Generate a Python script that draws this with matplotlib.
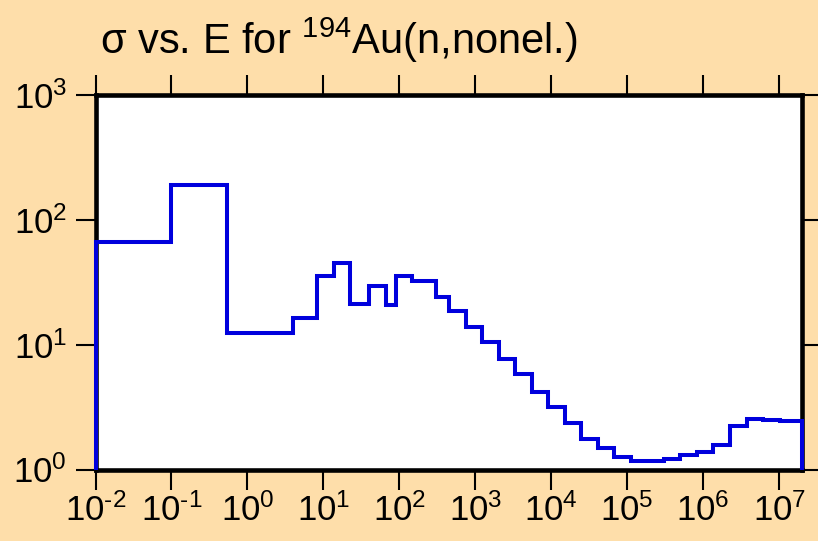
import matplotlib
matplotlib.use("Agg")
import matplotlib.pyplot as plt

plt.rcParams["font.family"] = ["Liberation Sans", "DejaVu Sans"]
plt.rcParams["mathtext.fontset"] = "custom"
plt.rcParams["mathtext.rm"] = "Liberation Sans"
plt.rcParams["mathtext.it"] = "Liberation Sans:italic"
plt.rcParams["mathtext.bf"] = "Liberation Sans:bold"

# energy bin edges (eV) and cross section per bin (b)
EDGES = [0.01, 0.1, 0.54, 4.0, 8.3, 13.9, 22.5, 40, 67, 91, 149, 303, 455,
         754, 1236, 2050, 3365, 5580, 9160, 15200, 24900, 41300, 67800,
         1.12e5, 1.86e5, 3.03e5, 5.02e5, 8.34e5, 1.35e6, 2.24e6, 3.79e6,
         6.17e6, 1.02e7, 2e7]
SIGMA = [66, 190, 12.5, 16.5, 35.6, 45, 21.1, 29.4, 20.7, 35.4, 32.4, 24.2,
         18.6, 13.9, 10.6, 7.67, 5.86, 4.21, 3.16, 2.35, 1.77, 1.48, 1.26,
         1.18, 1.17, 1.22, 1.30, 1.38, 1.58, 2.23, 2.55, 2.51, 2.43]

X_EXP = list(range(-2, 8))
Y_EXP = [0, 1, 2, 3]

BG = "#fedeaa"


def pow_label(k):
    # short hyphen in the exponent, like the original
    sign = r"\text{-}" if k < 0 else ""
    return r"$\mathregular{10^{%s%d}}$" % (sign, abs(k))


fig = plt.figure(figsize=(8.18, 5.41), dpi=100, facecolor=BG)
ax = fig.add_axes([95.5 / 818, 1 - 469.5 / 541, (802 - 95.5) / 818, (469.5 - 95) / 541])
ax.set_facecolor("white")

ax.stairs(SIGMA, EDGES, baseline=1, color="#0000dd", linewidth=2.9,
          zorder=3, clip_on=False)

ax.set_xscale("log")
ax.set_yscale("log")
ax.set_xlim(EDGES[0], EDGES[-1])
ax.set_ylim(1, 1000)
ax.set_xticks([10.0 ** k for k in X_EXP])
ax.set_xticklabels([pow_label(k) for k in X_EXP])
ax.set_yticks([10.0 ** k for k in Y_EXP])
ax.set_yticklabels([pow_label(k) for k in Y_EXP])
ax.minorticks_off()

for s in ax.spines.values():
    s.set_linewidth(3.3)
ax.tick_params(which="major", direction="out", length=14.5, width=1.5,
               top=True, right=True, labelsize=25, color="black")
ax.tick_params(axis="x", pad=2.5)
ax.tick_params(axis="y", pad=6)

fig.text(100 / 818, 1 - 54 / 541, r"σ vs. E for $\mathregular{^{194}}$Au(n,nonel.)",
         fontsize=30, va="baseline", ha="left")

fig.savefig("out.png", dpi=100, facecolor=BG)
